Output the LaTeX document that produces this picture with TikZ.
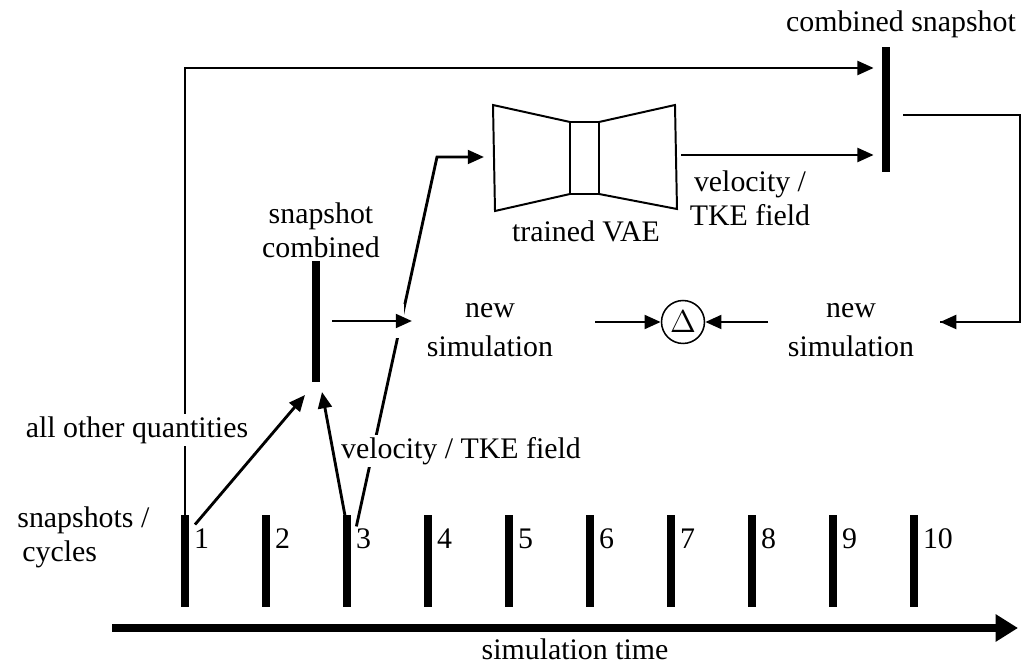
\documentclass[tikz,border=0pt]{standalone}
\usepackage{fontspec}
\setmainfont{Liberation Serif}
\usepackage{tikz}
\usetikzlibrary{arrows.meta}
\tikzset{
    arr/.style={line width=1.3pt, -{Triangle[length=2.6mm,width=2.2mm]}},
    conn/.style={line width=1.3pt},
    bar/.style={fill=black, inner sep=0pt, minimum width=3.4pt},
    txt/.style={align=center, inner sep=1pt},
    vae/.style={line width=0.9pt, line join=miter}}

\begin{document}
\begin{tikzpicture}[x=0.016cm, y=-0.016cm, font=\fontsize{13.6}{15.5}\selectfont]
        \useasboundingbox (0,0) rectangle (1031,666);

        % time axis with the snapshot ticks
        \coordinate (t0) at (112,628);
        \coordinate (tend) at (1018,628);
        \draw[line width=3.4pt, -{Triangle[length=3.6mm,width=4.2mm]}] (t0) -- (tend);
        \node[txt] (time) at (575,649) {simulation time};
        \foreach \i in {1,...,10}{
            \node[bar, minimum height=92*0.016cm] (t\i) at ({185+81*(\i-1)},561) {};
            \node[anchor=base west, inner sep=2pt] (n\i) at ([yshift=0.2cm]t\i.east) {\i};
        }
        \node[align=left, anchor=west, inner sep=0pt] (snaps) at (17,537) {snapshots /\\ \,cycles};

        % the two combined snapshots
        \node[bar, minimum height=121*0.016cm] (sc) at (316,322) {};
        \node[txt] (sclab) at (321,230) {snapshot\\combined};
        \node[bar, minimum height=125*0.016cm] (cs) at (886,110) {};
        \node[txt] (cslab) at (901,24) {combined snapshot};

        % VAE
        \draw[vae] (493,105) -- (570,122) -- (570,194) -- (495,211) -- cycle;
        \draw[vae] (570,122) rectangle (599,194);
        \draw[vae] (599,122) -- (675,105) -- (677,209) -- (599,194);
        \node[txt] (vaelab) at (586,231) {trained VAE};
        \coordinate (vaein) at (484,157);
        \coordinate (bend) at (437,157);

        % comparison
        \node[txt, align=center, font=\fontsize{13.6}{17.5}\selectfont] (new1) at (490,330) {new\\simulation};
        \node[txt, font=\fontsize{13.6}{17.5}\selectfont] (new2) at (851,330) {new\\simulation};
        \node[draw, circle, line width=0.7pt, inner sep=1.5pt, minimum size=36*0.016cm] (delta) at (683,322) {$\Delta$};

        % connectors
        \draw[arr] ([yshift=-0.16cm]t1.north) |- ([xshift=-0.13cm]cs.west |- 0,68);
        \node[txt, fill=white] (other) at (137,430) {all other quantities};
        \draw[arr] ([xshift=0.16cm, yshift=-0.16cm]t1.north) -- (305,395);
        \draw[arr] ([yshift=-0.19cm]t3.north) -- (322,392);
        \draw[arr] ([xshift=0.15cm, yshift=-0.19cm]t3.north) -- (bend) -- (vaein);
        \node[txt, fill=white] (velo) at (461,451) {velocity / TKE field};
        \draw[white, line width=0.56cm] (330,321) -- (404,321);
        \draw[arr] ([xshift=0.19cm]sc.east |- 0,321) -- (412,321);
        \draw[arr] (681,155) -- ([xshift=-0.13cm]cs.west |- 0,155);
        \node[txt] (vout) at (750,198) {velocity /\\TKE field};
        \draw[conn] (903,115) -| (1020,322) -- (940,322) coordinate (back);
        \draw[arr] (1020,322) -- (back);
        \draw[arr] (768,322) -- (delta);
        \draw[arr] (595,322) -- (delta);

\end{tikzpicture}
\end{document}
